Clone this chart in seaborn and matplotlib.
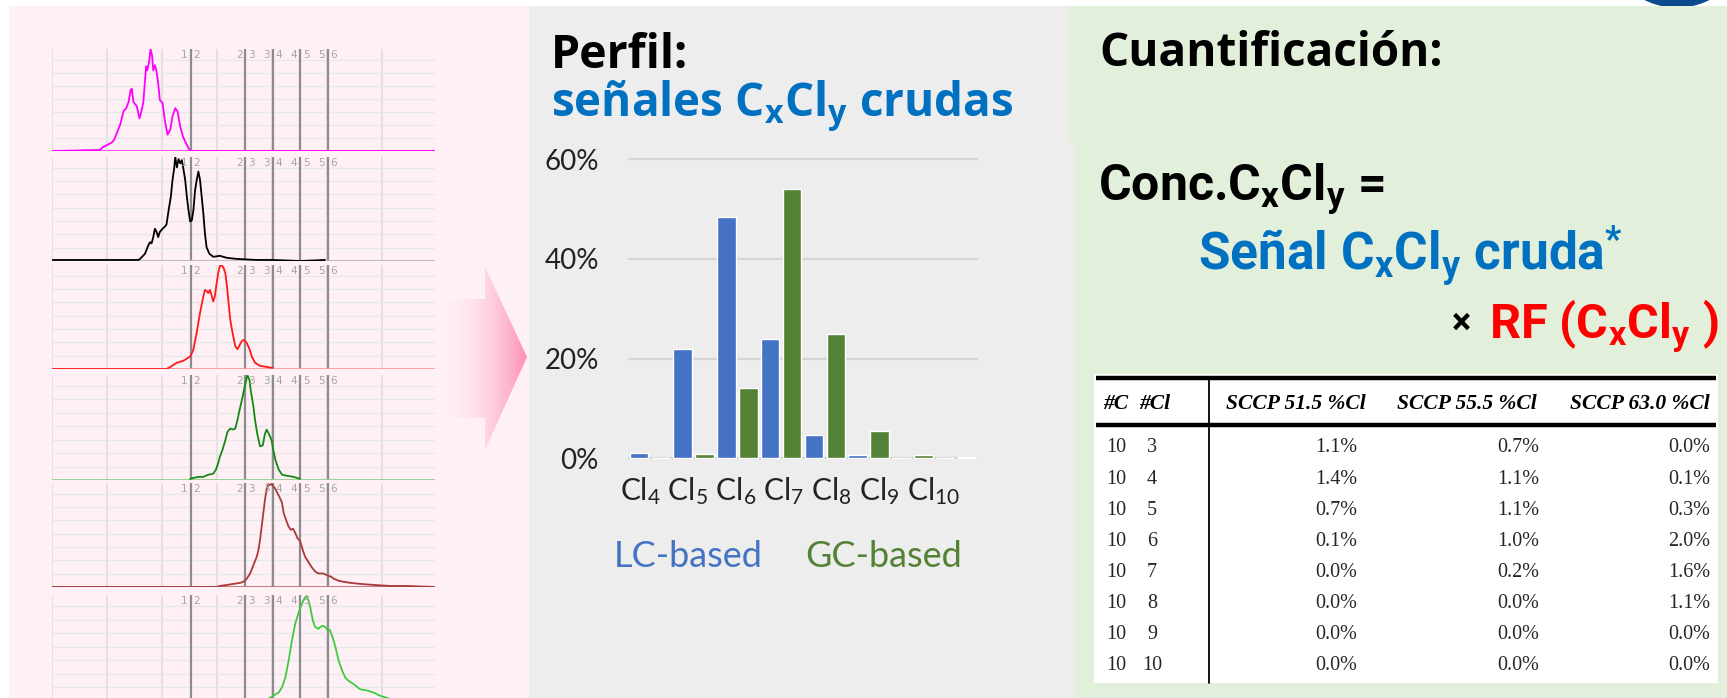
import numpy as np
import pandas as pd
import matplotlib
matplotlib.use("Agg")
import matplotlib.pyplot as plt
import seaborn as sns
from matplotlib.patches import Rectangle, Polygon, Circle
from matplotlib.ticker import FuncFormatter

# ---------------- data ----------------
categories = ["Cl4", "Cl5", "Cl6", "Cl7", "Cl8", "Cl9", "Cl10", "Cl11"]
tick_labels = [r"Cl$_\mathregular{4}$", r"Cl$_\mathregular{5}$", r"Cl$_\mathregular{6}$",
               r"Cl$_\mathregular{7}$", r"Cl$_\mathregular{8}$", r"Cl$_\mathregular{9}$",
               r"Cl$_\mathregular{10}$"]
lc_based = [1.1, 21.9, 48.4, 23.9, 4.7, 0.7, 0.0, 0.0]
gc_based = [0.0, 0.9, 14.2, 54.1, 24.9, 5.4, 0.7, 0.3]
y_ticks = [0, 20, 40, 60]

tbl_nc = [10, 10, 10, 10, 10, 10, 10, 10]
tbl_ncl = [3, 4, 5, 6, 7, 8, 9, 10]
tbl_headers = ["#C", "#Cl", "SCCP 51.5 %Cl", "SCCP 55.5 %Cl", "SCCP 63.0 %Cl"]
sccp_515 = [1.1, 1.4, 0.7, 0.1, 0.0, 0.0, 0.0, 0.0]
sccp_555 = [0.7, 1.1, 1.1, 1.0, 0.2, 0.0, 0.0, 0.0]
sccp_630 = [0.0, 0.1, 0.3, 2.0, 1.6, 1.1, 0.0, 0.0]

# chromatogram traces (retention-time units, normalised intensity)
t1_x = [0.01, 0.87, 0.93, 1.08, 1.13, 1.24, 1.30, 1.35, 1.39, 1.43, 1.45, 1.48, 1.54, 1.59, 1.63, 1.66, 1.71,
        1.73, 1.77, 1.79, 1.82, 1.84, 1.87, 1.90, 1.93, 1.96, 2.01, 2.05, 2.10, 2.15, 2.19, 2.24, 2.28, 2.33,
        2.38, 2.45, 2.51, 6.96]
t1_y = [0, 0.01, 0.04, 0.08, 0.11, 0.26, 0.39, 0.42, 0.48, 0.60, 0.61, 0.48, 0.44, 0.32, 0.40, 0.48, 0.83,
        0.79, 0.89, 1.00, 0.93, 0.79, 0.84, 0.78, 0.66, 0.50, 0.47, 0.30, 0.16, 0.21, 0.34, 0.42, 0.39, 0.24,
        0.14, 0.06, 0, 0]
t2_x = [0.01, 1.57, 1.60, 1.69, 1.75, 1.78, 1.81, 1.84, 1.87, 1.90, 1.93, 1.96, 2.01, 2.05, 2.08, 2.12, 2.16,
        2.19, 2.22, 2.24, 2.27, 2.30, 2.33, 2.36, 2.39, 2.42, 2.45, 2.48, 2.51, 2.54, 2.57, 2.60, 2.63, 2.66,
        2.69, 2.72, 2.75, 2.78, 2.81, 2.86, 2.93, 3.05, 3.18, 3.36, 3.72, 4.02, 4.51, 4.96]
t2_y = [0.01, 0.01, 0.02, 0.07, 0.15, 0.18, 0.17, 0.23, 0.31, 0.28, 0.23, 0.28, 0.31, 0.33, 0.35, 0.49, 0.62,
        0.78, 0.89, 1.00, 0.90, 0.98, 0.94, 0.97, 0.88, 0.78, 0.62, 0.49, 0.38, 0.39, 0.49, 0.68, 0.78, 0.86,
        0.78, 0.62, 0.46, 0.26, 0.13, 0.07, 0.04, 0.05, 0.03, 0.02, 0.01, 0.01, 0.00, 0.01]
t3_x = [0.01, 2.08, 2.15, 2.21, 2.27, 2.33, 2.39, 2.45, 2.51, 2.54, 2.57, 2.63, 2.69, 2.75, 2.78, 2.81, 2.84,
        2.87, 2.90, 2.93, 2.96, 2.99, 3.02, 3.05, 3.08, 3.12, 3.15, 3.18, 3.21, 3.24, 3.28, 3.33, 3.37, 3.41,
        3.45, 3.49, 3.54, 3.59, 3.63, 3.69, 3.78, 3.90, 4.01]
t3_y = [0.00, 0.00, 0.02, 0.04, 0.06, 0.07, 0.08, 0.10, 0.12, 0.15, 0.19, 0.35, 0.54, 0.70, 0.76, 0.75, 0.73,
        0.76, 0.71, 0.65, 0.70, 0.82, 0.92, 0.99, 1.00, 0.97, 0.92, 0.79, 0.63, 0.47, 0.35, 0.22, 0.19, 0.23,
        0.27, 0.28, 0.25, 0.19, 0.12, 0.06, 0.03, 0.02, 0.01]
t4_x = [2.51, 2.57, 2.66, 2.75, 2.84, 2.93, 2.98, 3.02, 3.05, 3.10, 3.15, 3.19, 3.24, 3.29, 3.33, 3.37, 3.41,
        3.45, 3.49, 3.53, 3.55, 3.59, 3.61, 3.66, 3.69, 3.73, 3.78, 3.83, 3.87, 3.90, 3.95, 3.99, 4.02, 4.06,
        4.12, 4.18, 4.27, 4.39, 4.51]
t4_y = [0.01, 0.02, 0.03, 0.03, 0.05, 0.06, 0.10, 0.16, 0.22, 0.29, 0.38, 0.46, 0.49, 0.48, 0.49, 0.57, 0.67,
        0.76, 0.86, 0.95, 1.00, 0.95, 0.86, 0.70, 0.57, 0.44, 0.32, 0.33, 0.44, 0.48, 0.43, 0.38, 0.29, 0.19,
        0.10, 0.05, 0.04, 0.03, 0.01]
t5_x = [0.01, 2.99, 3.05, 3.18, 3.30, 3.42, 3.48, 3.54, 3.60, 3.66, 3.72, 3.75, 3.78, 3.81, 3.84, 3.87, 3.90,
        3.93, 3.96, 3.99, 4.02, 4.05, 4.10, 4.13, 4.18, 4.21, 4.25, 4.30, 4.34, 4.38, 4.42, 4.46, 4.51, 4.56,
        4.60, 4.66, 4.72, 4.78, 4.84, 4.93, 5.01, 5.07, 5.12, 5.21, 5.30, 5.42, 5.60, 5.84, 6.15, 6.45, 6.96]
t5_y = [0, 0, 0.01, 0.02, 0.03, 0.04, 0.05, 0.08, 0.13, 0.21, 0.29, 0.35, 0.45, 0.58, 0.71, 0.84, 0.94, 0.99,
        0.98, 0.99, 0.97, 0.95, 0.90, 0.87, 0.81, 0.71, 0.65, 0.58, 0.55, 0.56, 0.52, 0.47, 0.44, 0.35, 0.29,
        0.24, 0.19, 0.15, 0.13, 0.13, 0.11, 0.10, 0.08, 0.06, 0.05, 0.04, 0.03, 0.02, 0.01, 0.01, 0]
t6_x = [3.90, 4.02, 4.12, 4.18, 4.24, 4.30, 4.36, 4.42, 4.48, 4.52, 4.57, 4.60, 4.63, 4.66, 4.69, 4.74, 4.78,
        4.84, 4.88, 4.92, 4.96, 5.01, 5.05, 5.10, 5.15, 5.21, 5.27, 5.33, 5.39, 5.48, 5.60, 5.72, 5.84, 5.96,
        6.08, 6.21]
t6_y = [0.01, 0.05, 0.08, 0.13, 0.22, 0.38, 0.57, 0.73, 0.83, 0.89, 0.95, 0.98, 0.99, 0.95, 0.89, 0.76, 0.70,
        0.68, 0.70, 0.71, 0.70, 0.67, 0.67, 0.60, 0.51, 0.38, 0.29, 0.22, 0.19, 0.16, 0.11, 0.10, 0.08, 0.05,
        0.03, 0.01]
traces_x = [t1_x, t2_x, t3_x, t4_x, t5_x, t6_x]
traces_y = [t1_y, t2_y, t3_y, t4_y, t5_y, t6_y]
marker_rt = [2.52, 3.51, 4.01, 4.51, 5.01]
marker_lbl = [("1", "2"), ("2", "3"), ("3", "4"), ("4", "5"), ("5", "6")]

# ---------------- style ----------------
sns.set_theme(style="white")
plt.rcParams["font.family"] = ["Lato", "DejaVu Sans"]
plt.rcParams["mathtext.fontset"] = "custom"
plt.rcParams["mathtext.rm"] = "Lato"
plt.rcParams["mathtext.it"] = "Lato:italic"
plt.rcParams["mathtext.bf"] = "Lato:bold"

W, H = 1727, 698
fig = plt.figure(figsize=(W / 100, H / 100), dpi=100)
fig.patch.set_facecolor("white")


def px_axes(left, top, width, height, z=2):
    ax = fig.add_axes([left / W, 1 - (top + height) / H, width / W, height / H])
    ax.set_zorder(z)
    ax.patch.set_alpha(0)
    return ax


bg = fig.add_axes([0, 0, 1, 1])
bg.set_zorder(0)
bg.axis("off")

# panels
bg.add_patch(Circle((1677, -65), 72, color="#0B4A8C", zorder=0))
bg.add_patch(Rectangle((9, 6), 520, 700, fc="#FEF0F4", ec="none", zorder=1))
bg.add_patch(Rectangle((529, 6), 546, 700, fc="#EDEDED", ec="none", zorder=1))
bg.add_patch(Rectangle((1069, 6), 670, 137, fc="#E2EFDA", ec="none", zorder=1))
bg.add_patch(Rectangle((1075, 143), 670, 560, fc="#E2EFDA", ec="none", zorder=1))

# gradient arrow
grad = np.zeros((2, 256, 4))
grad[..., 0] = 1.0
grad[..., 1] = np.linspace(0.92, 0.56, 256)
grad[..., 2] = np.linspace(0.94, 0.70, 256)
grad[..., 3] = np.linspace(0.0, 1.0, 256) ** 1.1
arrow_pts = [(440, 299), (485, 299), (485, 267), (527, 357), (485, 450), (485, 418), (440, 418)]
im = bg.imshow(grad, extent=[440, 527, 450, 267], aspect="auto", zorder=2, interpolation="bilinear")
poly = Polygon(arrow_pts, closed=True, fc="none", ec="none", transform=bg.transData)
bg.add_patch(poly)
im.set_clip_path(poly)
bg.set_xlim(0, W)
bg.set_ylim(H, 0)

# ---------------- chromatograms ----------------
panel_tops = [49, 157, 265, 375, 483, 595]
panel_bases = [151, 261, 369, 480, 587, 701]
trace_cols = ["#FF00FF", "#000000", "#FF1A1A", "#138A13", "#A93A3A", "#3DCC3D"]
base_cols = ["#FF44FF", "#B8B8B8", "#FF9A9A", "#8FD08F", "#C07070", "#9EE39E"]
for i in range(6):
    top, base = panel_tops[i], panel_bases[i]
    ax = px_axes(52, top, 383, base - top, z=3)
    ax.axis("off")
    for g in range(0, 7):
        ax.axvline(g, color="#DCDCDC", lw=1.1, zorder=1)
    for h in range(1, 8):
        ax.axhline(h * 0.128, color="#E8E8E8", lw=1.0, zorder=1)
    for m in marker_rt:
        ax.axvline(m, color="#8C8C8C", lw=1.6, zorder=2)
    for m, (a, b) in zip(marker_rt, marker_lbl):
        ax.text(m - 0.05, 0.995, a, ha="right", va="top", fontsize=7.5, color="#A6A6A6",
                family="DejaVu Sans", zorder=4)
        ax.text(m + 0.05, 0.995, b, ha="left", va="top", fontsize=7.5, color="#A6A6A6",
                family="DejaVu Sans", zorder=4)
    ax.axhline(0.0, color=base_cols[i], lw=1.3, zorder=2)
    sns.lineplot(x=traces_x[i], y=traces_y[i], ax=ax, color=trace_cols[i], lw=1.3,
                 estimator=None, sort=False, zorder=3)
    ax.set_xlim(0, 6.96)
    ax.set_ylim(0, 1.0)

# ---------------- bar chart ----------------
blue, green = "#4472C4", "#548235"
df = pd.DataFrame({
    "cat": categories * 2,
    "method": ["LC-based"] * len(categories) + ["GC-based"] * len(categories),
    "value": lc_based + gc_based,
})
pxper = 4.983
bax = px_axes(628, 458.3 - 61 * pxper, 350, 61.2 * pxper, z=3)
sns.barplot(data=df, x="cat", y="value", hue="method", palette=[blue, green], width=1.0, gap=0.15,
            saturation=1, ax=bax, legend=False, zorder=3)
bax.set_xlim(-0.5, 7.5)
bax.set_ylim(-0.2, 61)
bax.set_yticks(y_ticks)
bax.yaxis.set_major_formatter(FuncFormatter(lambda v, p: f"{v:.0f}%"))
bax.yaxis.grid(True, color="#D5D5D5", lw=1.6)
bax.xaxis.grid(False)
bax.set_axisbelow(True)
for s in bax.spines.values():
    s.set_visible(False)
bax.tick_params(axis="both", length=0)
bax.tick_params(axis="y", labelsize=20, pad=21, labelcolor="#222222")
bax.set_xticks([])
bax.set_xlabel("")
bax.set_ylabel("")
# category labels (one text line under the bars, as in the slide)
bg.text(620, 500, " ".join(tick_labels), fontsize=21.5, color="#222222", va="baseline", ha="left",
        zorder=5)

bg.text(614, 567, "LC-based", color=blue, fontsize=26, va="baseline", ha="left", zorder=5)
bg.text(805, 567, "GC-based", color=green, fontsize=26, va="baseline", ha="left", zorder=5)

# ---------------- titles / formula ----------------
tfont = ["Open Sans", "DejaVu Sans"]
bg.text(551, 68, "Perfil:", fontsize=33.5, fontweight="bold", family=tfont, color="black",
        va="baseline", zorder=5)
bg.text(551, 117, r"señales C$_\mathregular{x}$Cl$_\mathregular{y}$ crudas", fontsize=33,
        fontweight="bold", family=tfont, color="#0070C0", va="baseline", zorder=5)
bg.text(1099, 66, "Cuantificación:", fontsize=33, fontweight="bold", family=tfont, color="black",
        va="baseline", zorder=5)

ffont = ["Roboto", "DejaVu Sans"]
bg.text(1098, 200, r"Conc.C$_\mathregular{x}$Cl$_\mathregular{y}$ =", fontsize=36, fontweight="bold",
        family=ffont, color="black", va="baseline", zorder=5)
bg.text(1198, 269, r"Señal C$_\mathregular{x}$Cl$_\mathregular{y}$ cruda$^\mathregular{*}$", fontsize=37,
        fontweight="bold", family=ffont, color="#0070C0", va="baseline", zorder=5)
bg.text(1452, 334, "×", fontsize=26, fontweight="bold", family=ffont, color="black", va="baseline",
        zorder=5)
bg.text(1489, 337, r"RF (C$_\mathregular{x}$Cl$_\mathregular{y}$ )", fontsize=35, fontweight="bold",
        family=ffont, color="#FF0000", va="baseline", zorder=5)

# ---------------- table ----------------
bg.add_patch(Rectangle((1094, 374), 624, 309, fc="white", ec="none", zorder=3))
bg.plot([1096, 1716], [378, 378], color="black", lw=3.2, zorder=4, solid_capstyle="butt")
bg.plot([1096, 1716], [425, 425], color="black", lw=3.2, zorder=4, solid_capstyle="butt")
bg.plot([1209, 1209], [378, 683], color="black", lw=1.3, zorder=4)
sfont = ["Liberation Serif", "DejaVu Serif"]
hdr_x = [1116, 1155, 1296, 1467, 1640]
for hx, ht in zip(hdr_x, tbl_headers):
    bg.text(hx, 404, ht, ha="center", va="center", fontsize=15.5, fontweight="bold", fontstyle="italic",
            family=sfont, color="black", zorder=5)
row_y0, row_dy = 448, 31.1
for r in range(len(tbl_ncl)):
    y = row_y0 + r * row_dy
    bg.text(1116, y, str(tbl_nc[r]), ha="center", va="center", fontsize=14.5, family=sfont, zorder=5)
    bg.text(1152, y, str(tbl_ncl[r]), ha="center", va="center", fontsize=14.5, family=sfont, zorder=5)
    for xr, col in zip([1357, 1539, 1710], [sccp_515, sccp_555, sccp_630]):
        bg.text(xr, y, f"{col[r]:.1f}%", ha="right", va="center", fontsize=14.5, family=sfont, zorder=5)

fig.savefig("out.png", dpi=100, facecolor="white")
